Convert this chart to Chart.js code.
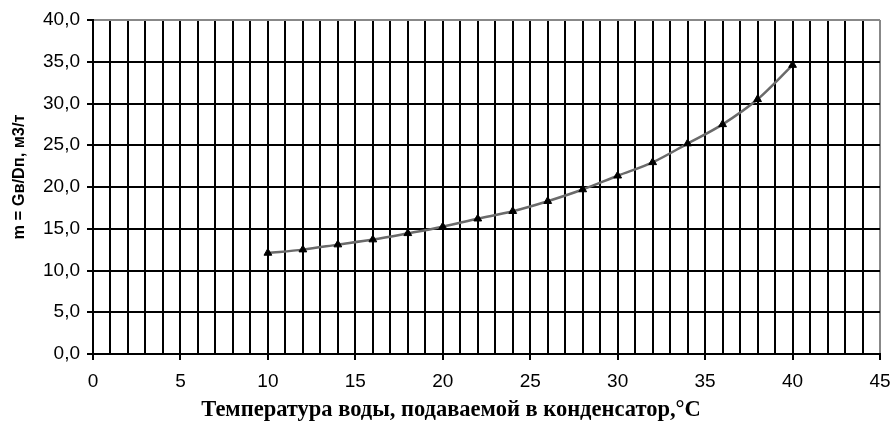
<!DOCTYPE html>
<html>
<head>
<meta charset="utf-8">
<script src="https://cdn.jsdelivr.net/npm/chart.js@4.4.1/dist/chart.umd.min.js"></script>
<style>
html,body{margin:0;padding:0;background:#fff;}
#wrap{width:890px;height:433px;position:relative;}
</style>
</head>
<body>
<div id="wrap"><canvas id="c" width="890" height="433"></canvas></div>
<script>
const temperatures = [10, 12, 14, 16, 18, 20, 22, 24, 26, 28, 30, 32, 34, 36, 38, 40];
const ratioValues = [12.1, 12.5, 13.1, 13.7, 14.45, 15.25, 16.2, 17.1, 18.3, 19.7, 21.35, 22.95, 25.2, 27.5, 30.5, 34.6];
const xTitle = 'Температура воды, подаваемой в конденсатор,°C';
const yTitle = 'm = Gв/Dп, м3/т';
const xMin = 0, xMax = 45, xLabelStep = 5, xGridStep = 1;
const yMin = 0, yMax = 40, yStep = 5;

const points = temperatures.map((t, i) => ({x: t, y: ratioValues[i]}));

const titlesPlugin = {
  id: 'titles',
  afterDraw(chart) {
    const ctx = chart.ctx;
    ctx.save();
    ctx.fillStyle = '#000';
    ctx.font = 'bold 22.5px "Liberation Serif", "Times New Roman", serif';
    ctx.textAlign = 'center';
    ctx.textBaseline = 'middle';
    ctx.fillText(xTitle, 451, 410);
    ctx.translate(19, 177);
    ctx.rotate(-Math.PI / 2);
    ctx.font = 'bold 17px "Liberation Sans", Arial, sans-serif';
    const w = ctx.measureText(yTitle).width;
    ctx.scale(125 / w, 1);
    ctx.fillText(yTitle, 0, 0);
    ctx.restore();
  }
};

new Chart(document.getElementById('c'), {
  type: 'line',
  data: {
    datasets: [{
      data: points,
      borderColor: '#6a6a6a',
      borderWidth: 2.5,
      cubicInterpolationMode: 'monotone',
      pointStyle: 'triangle',
      pointRadius: 4.5,
      pointBackgroundColor: '#000',
      pointBorderColor: '#000',
      pointBorderWidth: 1,
      fill: false
    }]
  },
  options: {
    responsive: false,
    animation: false,
    layout: {padding: {left: 0, right: 10, top: 20, bottom: 0}},
    plugins: {legend: {display: false}, tooltip: {enabled: false}},
    scales: {
      x: {
        type: 'linear',
        min: xMin, max: xMax,
        afterFit(s) { s.height = 79; s.paddingRight = 0; s.paddingLeft = 0; },
        border: {display: true, color: '#000', width: 2},
        grid: {
          display: true,
          drawTicks: true,
          tickLength: 6,
          lineWidth: 2,
          color: (c) => (c.tick && c.tick.value === xMax) ? '#888' : '#000',
          tickColor: (c) => (c.tick && c.tick.value % xLabelStep === 0) ? '#000' : 'rgba(0,0,0,0)',
          tickWidth: 2
        },
        ticks: {
          stepSize: xGridStep,
          autoSkip: false,
          maxRotation: 0,
          padding: 10,
          color: '#000',
          font: {family: '"Liberation Sans", Arial, sans-serif', size: 19},
          callback: (v) => (v % xLabelStep === 0) ? String(v) : ''
        }
      },
      y: {
        type: 'linear',
        min: yMin, max: yMax,
        afterFit(s) { s.width = 93; },
        border: {display: true, color: '#000', width: 2},
        grid: {
          display: true,
          drawTicks: true,
          tickLength: 6,
          lineWidth: 2,
          color: (c) => (c.tick && c.tick.value === yMax) ? '#888' : '#000',
          tickColor: '#000',
          tickWidth: 2
        },
        ticks: {
          stepSize: yStep,
          padding: 7,
          color: '#000',
          font: {family: '"Liberation Sans", Arial, sans-serif', size: 19},
          callback: (v) => v.toFixed(1).replace('.', ',')
        }
      }
    }
  },
  plugins: [titlesPlugin]
});
</script>
</body>
</html>
